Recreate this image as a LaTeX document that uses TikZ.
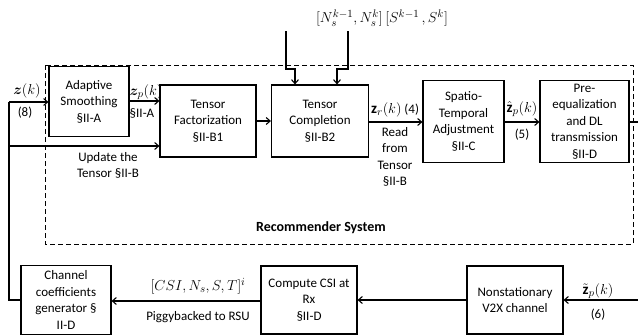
\documentclass[tikz,border=0pt]{standalone}
\usepackage{amsmath}
\usepackage{bm}
\usepackage{fontspec}
\setmainfont{Carlito}
\usetikzlibrary{arrows.meta}
\begin{document}
\begin{tikzpicture}[x=1pt,y=-1pt,
  every node/.style={font=\fontsize{13}{16.5}\selectfont, inner sep=0pt},
  blk/.style={draw, line width=1.1pt, align=center},
  arr/.style={line width=1.1pt, -{Straight Barb[length=4pt,width=7pt,line width=1.1pt]}},
  ln/.style={line width=1.1pt},
  lbl/.style={align=center},
  mth/.style={align=center, font=\fontsize{15}{17}\selectfont}]
\useasboundingbox (0,0) rectangle (638,335);

% recommender frame
\draw[line width=1pt, dash pattern=on 5pt off 3pt] (45,65) rectangle (633,244);
\node[font=\fontsize{14}{17}\selectfont\bfseries] (rs) at (321,228) {Recommender System};

% boxes
\node[blk, minimum width=80pt, minimum height=70pt] (as) at (89,101.5) {Adaptive\\Smoothing\\§II-A};
\node[blk, minimum width=96pt, minimum height=72pt] (tf) at (208,121) {Tensor\\Factorization\\§II-B1};
\node[blk, minimum width=97pt, minimum height=72pt] (tc) at (320,121) {Tensor\\Completion\\§II-B2};
\node[blk, minimum width=81pt, minimum height=82pt] (st) at (463.5,121.5) {Spatio-\\Temporal\\Adjustment\\§II-C};
\node[blk, minimum width=89pt, minimum height=82pt] (pe) at (584.5,121.5) {Pre-\\equalization\\and DL\\transmission\\§II-D};
\node[blk, minimum width=90pt, minimum height=69pt] (ch) at (66,300) {Channel\\coefficients\\generator §\\II-D};
\node[blk, minimum width=96pt, minimum height=68pt] (co) at (309,300) {Compute CSI at\\Rx\\§II-D};
\node[blk, minimum width=96pt, minimum height=68pt] (ns) at (515,300) {Nonstationary\\V2X channel};

% coordinates
\coordinate (fbA) at (9,300);
\coordinate (fbB) at (9,102);
\coordinate (fbC) at (9,146);
\coordinate (rOut) at (638,122);
\coordinate (rIn) at (638,300);
\coordinate (t1a) at (286,31);
\coordinate (t1b) at (286,69);
\coordinate (t1c) at (295,69);
\coordinate (t2a) at (348,31);
\coordinate (t2b) at (348,69);
\coordinate (t2c) at (337,69);

% connectors
\draw[ln] (ch.west |- fbA) -- (fbA) -- (fbB);
\draw[arr] (fbB) -- (as.west |- fbB);
\draw[arr] (fbC) -- (tf.west |- fbC);
\draw[arr] (as.east |- 0,101) -- (tf.west |- 0,101);
\draw[arr] (tf.east) -- (tc.west);
\draw[arr] (tc.east |- 0,122) -- (st.west |- 0,122);
\draw[arr] (st.east |- 0,122) -- (pe.west |- 0,122);
\draw[ln] (pe.east |- rOut) -- (rOut);
\draw[arr] (rIn) -- (ns.east |- rIn);
\draw[arr] (ns.west |- 0,300) -- (co.east |- 0,300);
\draw[arr] (co.west |- 0,301) -- (ch.east |- 0,301);
\draw[arr] (t1a) -- (t1b) -- (t1c) -- (t1c |- tc.north);
\draw[arr] (t2a) -- (t2b) -- (t2c) -- (t2c |- tc.north);

% labels
\node[mth] (lz) at (27,91) {$\bm{z}(k)$};
\node[lbl] (l8) at (25,113) {(8)};
\node[mth] (lzp) at (146,92) {$\bm{z}_p(k)$};
\node[lbl] (lsa) at (142,113) {§II-A};
\node[lbl] (lup) at (108,165.5) {Update the\\Tensor §II-B};
\node[lbl] (lzr) at (395,110) {{\fontsize{15}{17}\selectfont$\mathbf{z}_r(k)$} (4)};
\node[lbl] (lrd) at (395,157) {Read\\from\\Tensor\\§II-B};
\node[mth] (lzh) at (522,109) {$\hat{\mathbf{z}}_p(k)$};
\node[lbl] (l5) at (522,135) {(5)};
\node[mth] (ltop) at (382,18) {$[N_s^{k-1}, N_s^{k}]\,[S^{k-1}\,, S^{k}]$};
\node[mth] (lcsi) at (198,286) {$[CSI, N_s, S, T]^i$};
\node[lbl] (lpig) at (198,317) {Piggybacked to RSU};
\node[mth] (lzt) at (598,291) {$\tilde{\mathbf{z}}_p(k)$};
\node[lbl] (l6) at (598,315) {(6)};
\end{tikzpicture}
\end{document}
